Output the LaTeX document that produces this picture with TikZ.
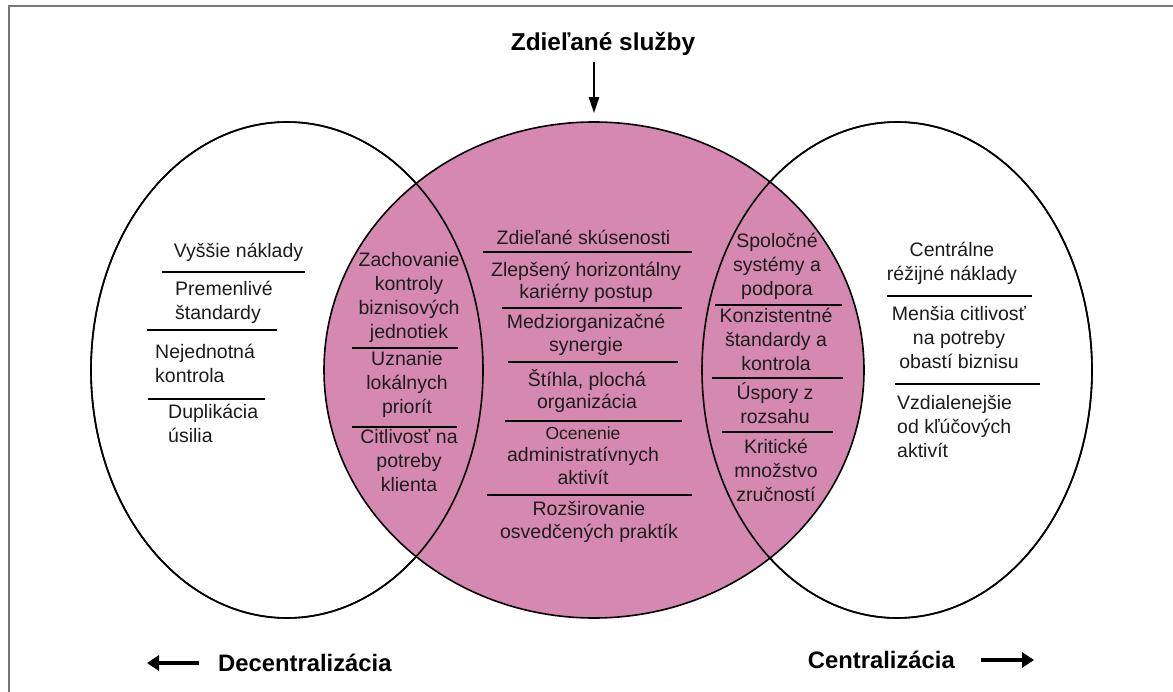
\documentclass[tikz,border=0pt]{standalone}
\usepackage{fontspec}
\setmainfont{Liberation Sans}
\usetikzlibrary{shapes.geometric,arrows.meta}
\definecolor{pinkfill}{RGB}{214,137,176}
\definecolor{ink}{RGB}{28,28,28}
\definecolor{framegray}{RGB}{120,120,120}
\begin{document}
\begin{tikzpicture}[x=1pt,y=-1pt,
  blob/.style={ellipse, draw=black, line width=1.6pt, inner sep=0pt},
  txt/.style={font=\fontsize{19.5}{24}\selectfont, text=ink, align=center, inner sep=0pt,
    execute at begin node=\strut, execute at end node=\strut},
  txtc/.style={txt, font=\fontsize{19.5}{22.5}\selectfont},
  txtl/.style={txt, align=left, anchor=west},
  divider/.style={line width=1.4pt, black},
  bottomlbl/.style={font=\fontsize{23.8}{28}\selectfont\bfseries, text=black, inner sep=0pt},
  bigarrow/.style={line width=3.5pt, -{Triangle[length=12pt,width=15pt]}},
  tiparrow/.style={line width=2.6pt, -{Triangle[length=16pt,width=10pt]}}
]
\useasboundingbox (0,0) rectangle (1173,692);
% frame
\draw[framegray, line width=2pt] (8.5,692) -- (8.5,6) -- (1173,6);

% shapes
\node[blob, fill=white, minimum width=392pt, minimum height=496pt] (decz) at (287,370) {};
\node[blob, fill=white, minimum width=390pt, minimum height=496pt] (cenz) at (897,370) {};
\node[blob, fill=pinkfill, minimum width=540pt, minimum height=496pt] (shared) at (594,370) {};
\draw[line width=1.6pt] (decz.center) ellipse [x radius=196pt, y radius=248pt];
\draw[line width=1.6pt] (cenz.center) ellipse [x radius=195pt, y radius=248pt];

% title and arrow
\node[font=\fontsize{24.4}{28}\selectfont\bfseries, text=black, inner sep=0pt, anchor=base] (title) at (603,50.7) {Zdieľané služby};
\draw[tiparrow, shorten <=6pt, shorten >=8pt] (title.south -| shared.north) -- (shared.north);

% left ellipse texts
\node[txt] (t1) at (238.5,253) {Vyššie náklady};
\node[txtl] (t2) at (175,304) {Premenlivé\\štandardy};
\node[txtl] (t3) at (155,366.5) {Nejednotná\\kontrola};
\node[txtl] (t4) at (168,426.5) {Duplikácia\\úsilia};
\draw[divider] (162,272) -- (305,272);
\draw[divider] (147,330) -- (277,330);
\draw[divider] (148,399) -- (265,399);

% left overlap
\node[txt] (l1) at (409,299.5) {Zachovanie\\kontroly\\biznisových\\jednotiek};
\node[txt] (l2) at (407,386) {Uznanie\\lokálnych\\priorít};
\node[txt] (l3) at (409,464) {Citlivosť na\\potreby\\klienta};
\draw[divider] (352,348) -- (458,348);
\draw[divider] (352,427) -- (457,427);

% centre
\node[txtc] (c1) at (583.5,240) {Zdieľané skúsenosti};
\node[txtc] (c2) at (586,283.5) {Zlepšený horizontálny\\kariérny postup};
\node[txtc] (c3) at (586,336) {Medziorganizačné\\synergie};
\node[txtc] (c4) at (587,392.5) {Štíhla, plochá\\organizácia};
\node[txtc] (c5) at (583,459) {{\fontsize{17.5}{22.5}\selectfont Ocenenie}\\administratívnych\\aktivít};
\node[txtc] (c6) at (589,523.5) {Rozširovanie\\osvedčených praktík};
\draw[divider] (483,252) -- (692,252);
\draw[divider] (502,308) -- (682,308);
\draw[divider] (508,362) -- (678,362);
\draw[divider] (505,421) -- (682,421);
\draw[divider] (487,495) -- (692,495);

% right overlap
\node[txt] (r1) at (777,267.5) {Spoločné\\systémy a\\podpora};
\node[txt] (r2) at (776,342.5) {Konzistentné\\štandardy a\\kontrola};
\node[txt] (r3) at (775,406.5) {Úspory z\\rozsahu};
\node[txt] (r4) at (776,474) {Kritické\\množstvo\\zručností};
\draw[divider] (715,305) -- (842,305);
\draw[divider] (712,378) -- (843,378);
\draw[divider] (722,432) -- (833,432);

% right ellipse
\node[txt] (e1) at (952,264.5) {Centrálne\\réžijné náklady};
\node[txt] (e2) at (959,341.5) {Menšia citlivosť\\na potreby\\obastí biznisu};
\node[txtl] (e3) at (897,430) {Vzdialenejšie\\od kľúčových\\aktivít};
\draw[divider] (887,296) -- (1032,296);
\draw[divider] (895,384) -- (1040,384);

% bottom labels
\node[bottomlbl, anchor=west] (declbl) at (218,663) {Decentralizácia};
\coordinate (decend) at (147,663);
\draw[bigarrow] ([xshift=-19pt]declbl.west) -- (decend);
\node[bottomlbl, anchor=east] (cenlbl) at (955,660) {Centralizácia};
\coordinate (cenend) at (1034,660);
\draw[bigarrow] ([xshift=26pt]cenlbl.east) -- (cenend);
\end{tikzpicture}
\end{document}
